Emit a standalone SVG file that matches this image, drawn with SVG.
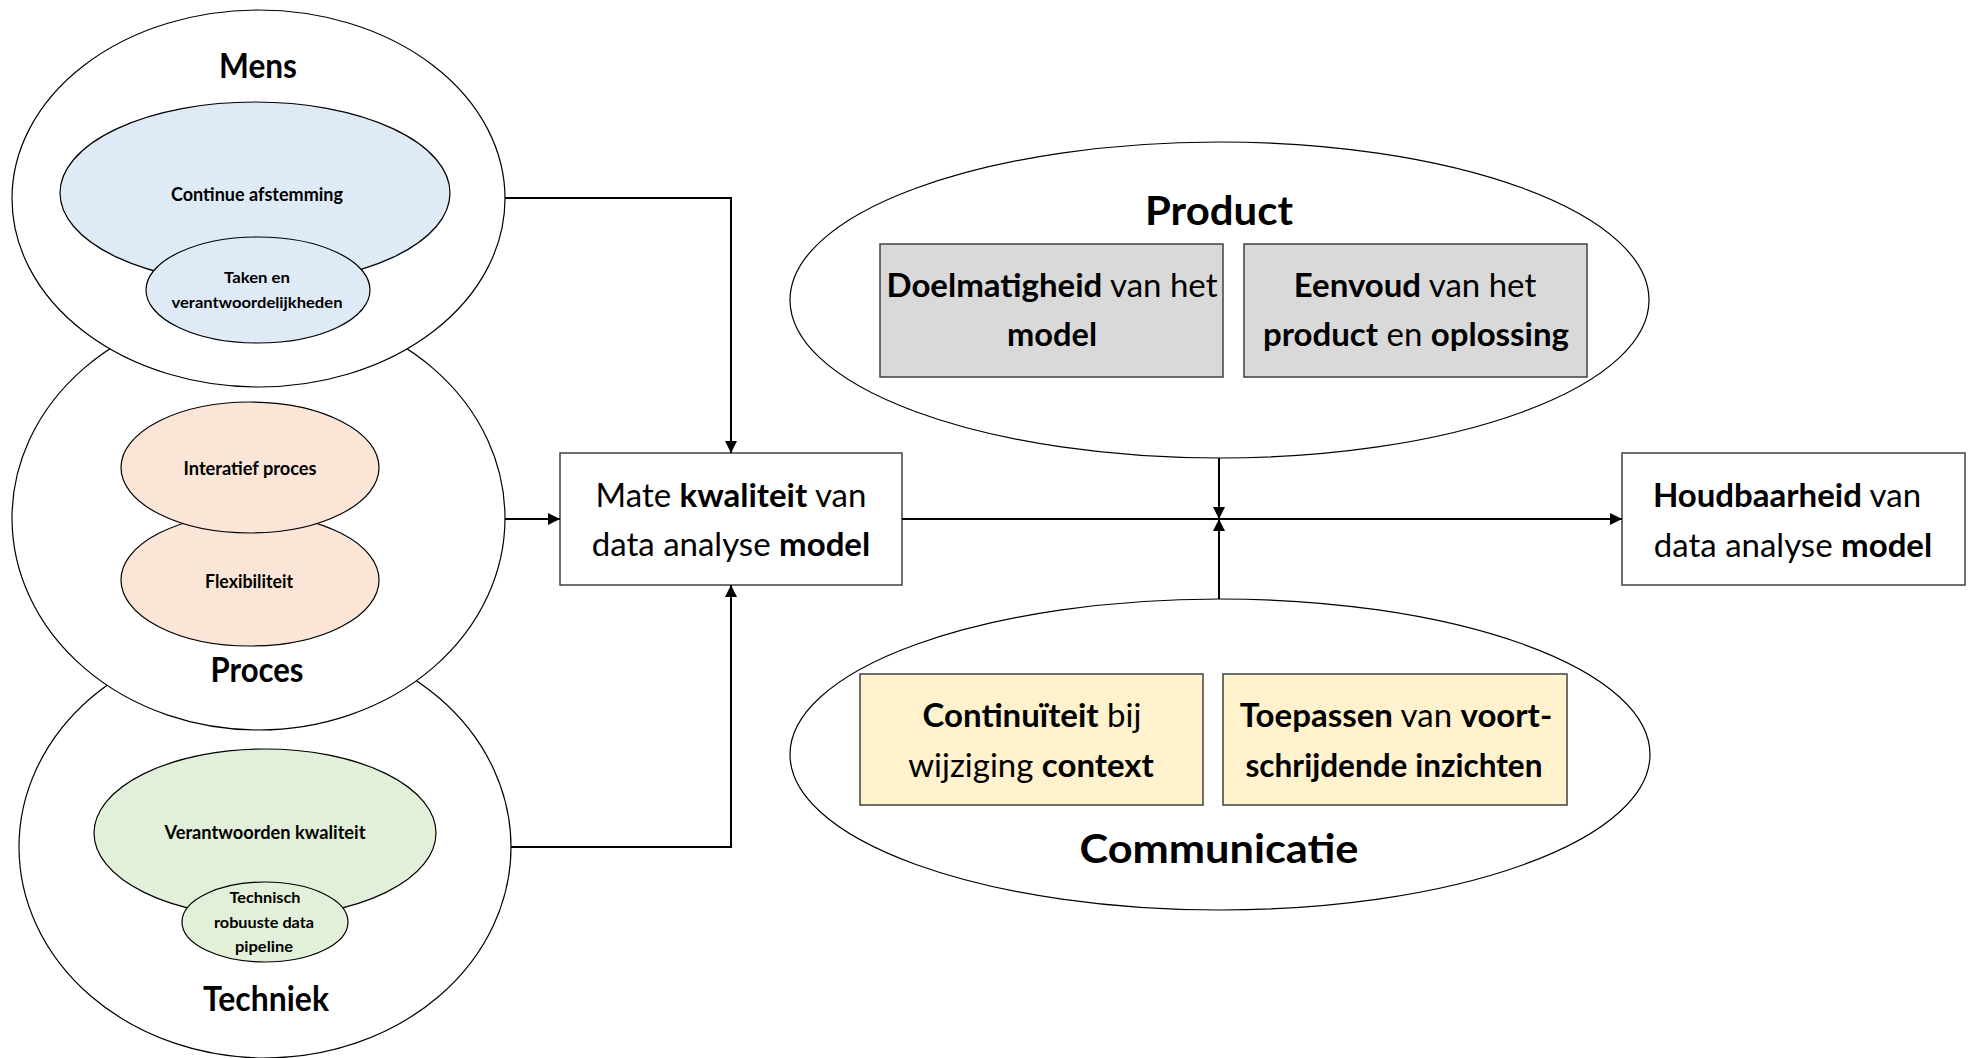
<svg xmlns="http://www.w3.org/2000/svg" width="1973" height="1058" viewBox="0 0 1973 1058">
  <style>
    .outer { fill: #ffffff; stroke: #000000; stroke-width: 1.2; }
    .blue { fill: #DEEBF7; stroke: #000000; stroke-width: 1.2; }
    .orange { fill: #FBE5D6; stroke: #000000; stroke-width: 1.2; }
    .green { fill: #E2F0D9; stroke: #000000; stroke-width: 1.2; }
    .box { fill: #ffffff; stroke: #404040; stroke-width: 1.5; }
    .gray { fill: #D9D9D9; stroke: #404040; stroke-width: 1.5; }
    .yellow { fill: #FFF2CC; stroke: #404040; stroke-width: 1.5; }
    text { font-family: Lato, "Liberation Sans", Arial, sans-serif; fill: #000000; text-anchor: middle; }
    .title { font-size: 35px; font-weight: bold; }
    .big { font-size: 41px; font-weight: bold; }
    .small { font-size: 19px; font-weight: bold; }
    .tiny { font-size: 16px; font-weight: bold; }
    .label { font-size: 33px; font-weight: normal; }
    .b { font-weight: bold; }
    .wire { fill: none; stroke: #000000; stroke-width: 2; }
  </style>
  <defs>
    <marker id="arrow" viewBox="0 0 10 10" refX="10" refY="5" markerWidth="13" markerHeight="12" markerUnits="userSpaceOnUse" orient="auto">
      <path d="M0,0 L10,5 L0,10 z" fill="#000000"/>
    </marker>
  </defs>

  <rect x="0" y="0" width="1973" height="1058" fill="#ffffff"/>

  <!-- Techniek -->
  <g id="techniek">
    <ellipse class="outer" cx="265" cy="847" rx="246" ry="211"/>
    <ellipse class="green" cx="265" cy="833" rx="171" ry="84"/>
    <ellipse class="green" cx="265" cy="922" rx="83" ry="40"/>
    <text class="small" x="265" y="839" textLength="201" lengthAdjust="spacingAndGlyphs">Verantwoorden kwaliteit</text>
    <text class="tiny" x="265" y="903" textLength="71" lengthAdjust="spacingAndGlyphs">Technisch</text>
    <text class="tiny" x="264" y="928" textLength="100" lengthAdjust="spacingAndGlyphs">robuuste data</text>
    <text class="tiny" x="264" y="952" textLength="58" lengthAdjust="spacingAndGlyphs">pipeline</text>
    <text class="title" x="266" y="1011" textLength="126" lengthAdjust="spacingAndGlyphs">Techniek</text>
  </g>

  <!-- Proces -->
  <g id="proces">
    <ellipse class="outer" cx="258.5" cy="518" rx="246.5" ry="212"/>
    <ellipse class="orange" cx="250" cy="580" rx="129" ry="66"/>
    <ellipse class="orange" cx="250" cy="467.5" rx="129" ry="65.5"/>
    <text class="small" x="250" y="475" textLength="133" lengthAdjust="spacingAndGlyphs">Interatief proces</text>
    <text class="small" x="249" y="588" textLength="88" lengthAdjust="spacingAndGlyphs">Flexibiliteit</text>
    <text class="title" x="257" y="682" textLength="93" lengthAdjust="spacingAndGlyphs">Proces</text>
  </g>

  <!-- Mens -->
  <g id="mens">
    <ellipse class="outer" cx="258.5" cy="198.5" rx="246.5" ry="188.5"/>
    <ellipse class="blue" cx="255" cy="193" rx="195" ry="91"/>
    <ellipse class="blue" cx="258" cy="290" rx="112" ry="53"/>
    <text class="title" x="258" y="78" textLength="78" lengthAdjust="spacingAndGlyphs">Mens</text>
    <text class="small" x="257" y="201" textLength="172" lengthAdjust="spacingAndGlyphs">Continue afstemming</text>
    <text class="tiny" x="257" y="283" textLength="66" lengthAdjust="spacingAndGlyphs">Taken en</text>
    <text class="tiny" x="257" y="308" textLength="171" lengthAdjust="spacingAndGlyphs">verantwoordelijkheden</text>
  </g>

  <!-- Mate kwaliteit van data analyse model -->
  <g id="kwaliteit">
    <rect class="box" x="560" y="453" width="342" height="132"/>
    <text class="label" x="731" y="507">Mate <tspan class="b">kwaliteit</tspan> van</text>
    <text class="label" x="731" y="556">data analyse <tspan class="b">model</tspan></text>
  </g>

  <!-- Product -->
  <g id="product">
    <ellipse class="outer" cx="1219.5" cy="300" rx="429.5" ry="158"/>
    <text class="big" x="1219" y="225" textLength="148" lengthAdjust="spacingAndGlyphs">Product</text>
    <rect class="gray" x="880" y="244" width="343" height="133"/>
    <text class="label" x="1052" y="297"><tspan class="b">Doelmatigheid</tspan> van het</text>
    <text class="label b" x="1052" y="346" textLength="90" lengthAdjust="spacingAndGlyphs">model</text>
    <rect class="gray" x="1244" y="244" width="343" height="133"/>
    <text class="label" x="1415" y="297"><tspan class="b">Eenvoud</tspan> van het</text>
    <text class="label" x="1416" y="346"><tspan class="b">product</tspan> en <tspan class="b">oplossing</tspan></text>
  </g>

  <!-- Communicatie -->
  <g id="communicatie">
    <ellipse class="outer" cx="1220" cy="754.5" rx="430" ry="155.5"/>
    <rect class="yellow" x="860" y="674" width="343" height="131"/>
    <text class="label" x="1032" y="727"><tspan class="b">Continuïteit</tspan> bij</text>
    <text class="label" x="1031" y="777">wijziging <tspan class="b">context</tspan></text>
    <rect class="yellow" x="1223" y="674" width="344" height="131"/>
    <text class="label" x="1396" y="727"><tspan class="b">Toepassen</tspan> van <tspan class="b">voort-</tspan></text>
    <text class="label b" x="1394" y="777" textLength="297" lengthAdjust="spacingAndGlyphs">schrijdende inzichten</text>
    <text class="big" x="1219" y="863" textLength="279" lengthAdjust="spacingAndGlyphs">Communicatie</text>
  </g>

  <!-- Houdbaarheid van data analyse model -->
  <g id="houdbaarheid">
    <rect class="box" x="1622" y="453" width="343" height="132"/>
    <text class="label" x="1787" y="507"><tspan class="b">Houdbaarheid</tspan> van</text>
    <text class="label" x="1793" y="557">data analyse <tspan class="b">model</tspan></text>
  </g>

  <!-- Connectors -->
  <g id="connectors">
    <path class="wire" d="M505,198 H731 V453" marker-end="url(#arrow)"/>
    <path class="wire" d="M505,519 H560" marker-end="url(#arrow)"/>
    <path class="wire" d="M511,847 H731 V585" marker-end="url(#arrow)"/>
    <path class="wire" d="M902,519 H1622" marker-end="url(#arrow)"/>
    <path class="wire" d="M1219,458 V519" stroke-width="1.6" marker-end="url(#arrow)"/>
    <path class="wire" d="M1219,599 V519" stroke-width="1.6" marker-end="url(#arrow)"/>
  </g>
</svg>
